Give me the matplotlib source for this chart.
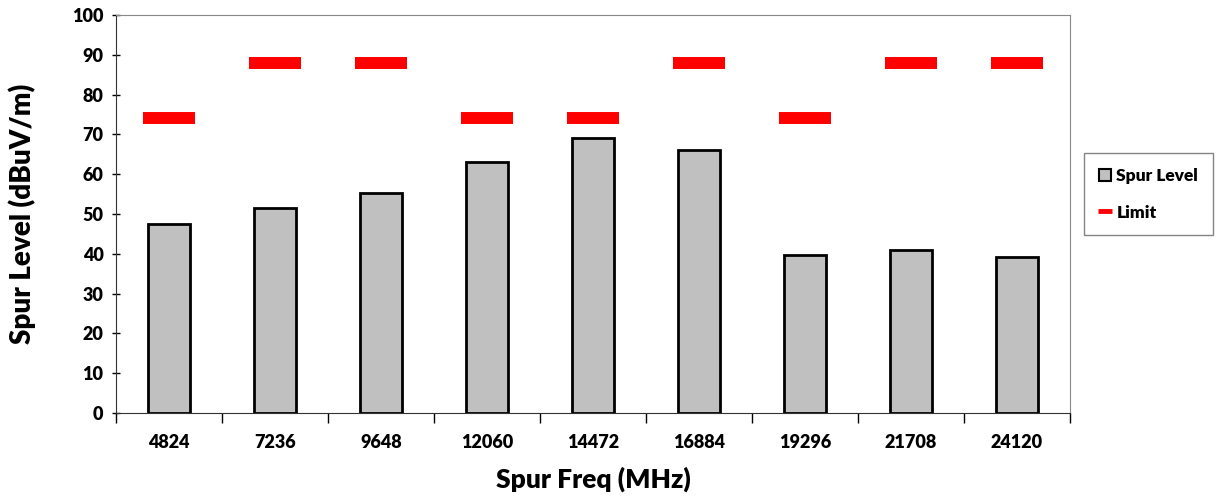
import numpy as np
import matplotlib.pyplot as plt
from matplotlib.lines import Line2D
from matplotlib.patches import Patch

freqs = ["4824", "7236", "9648", "12060", "14472", "16884", "19296", "21708", "24120"]
spur_level = [47.4, 51.6, 55.2, 63.0, 69.0, 66.2, 39.7, 40.9, 39.2]
limit = [74, 88, 88, 74, 74, 88, 74, 88, 88]

plt.rcParams["font.family"] = ["Lato", "DejaVu Sans"]
plt.rcParams["font.weight"] = "bold"

fig = plt.figure(figsize=(12.18, 4.98), dpi=100)
ax = fig.add_axes([0.0952, 0.1707, 0.7833, 0.7992])

x = np.arange(len(freqs))
ax.bar(x, spur_level, width=0.4, color="#c0c0c0", edgecolor="black", linewidth=2,
       zorder=2)
ax.plot(x, limit, linestyle="none", marker="_", markersize=37.5, markeredgewidth=8.6,
        color="red", zorder=3)

ax.set_xlim(-0.5, len(freqs) - 0.5)
ax.set_ylim(0, 100)
ax.set_yticks(np.arange(0, 101, 10))
ax.set_xticks(x)
ax.set_xticklabels(freqs)
ax.set_xticks(np.arange(-0.5, len(freqs)), minor=True)
ax.tick_params(axis="x", which="major", length=0, pad=15, labelsize=13)
ax.tick_params(axis="x", which="minor", length=7, width=1, direction="out")
ax.tick_params(axis="y", length=6, width=1, direction="inout", labelsize=13, pad=6)
for lab in ax.get_xticklabels() + ax.get_yticklabels():
    lab.set_fontweight("heavy")

for s in ["top", "right"]:
    ax.spines[s].set_color("#888888")
ax.spines["left"].set_color("#333333")
ax.spines["bottom"].set_color("#333333")

ax.set_xlabel("Spur Freq (MHz)", fontsize=19, fontweight="heavy", labelpad=11)
ax.set_ylabel("Spur Level (dBuV/m)", fontsize=20, fontweight="heavy", labelpad=26)

handles = [
    Patch(facecolor="#c0c0c0", edgecolor="black", linewidth=1.5),
    Line2D([], [], linestyle="none", marker="_", markersize=10, markeredgewidth=3.5,
           color="red"),
]
leg = ax.legend(handles, ["Spur Level", "Limit"], loc="center left",
                bbox_to_anchor=(1.015, 0.55),
                frameon=True, fancybox=False, edgecolor="#666666",
                handlelength=0.7, handleheight=0.7, handletextpad=0.3,
                labelspacing=1.2, borderpad=0.85, borderaxespad=0,
                prop={"size": 12.5, "weight": "heavy"})
leg.get_frame().set_linewidth(1)

fig.savefig("out.png", dpi=100)
